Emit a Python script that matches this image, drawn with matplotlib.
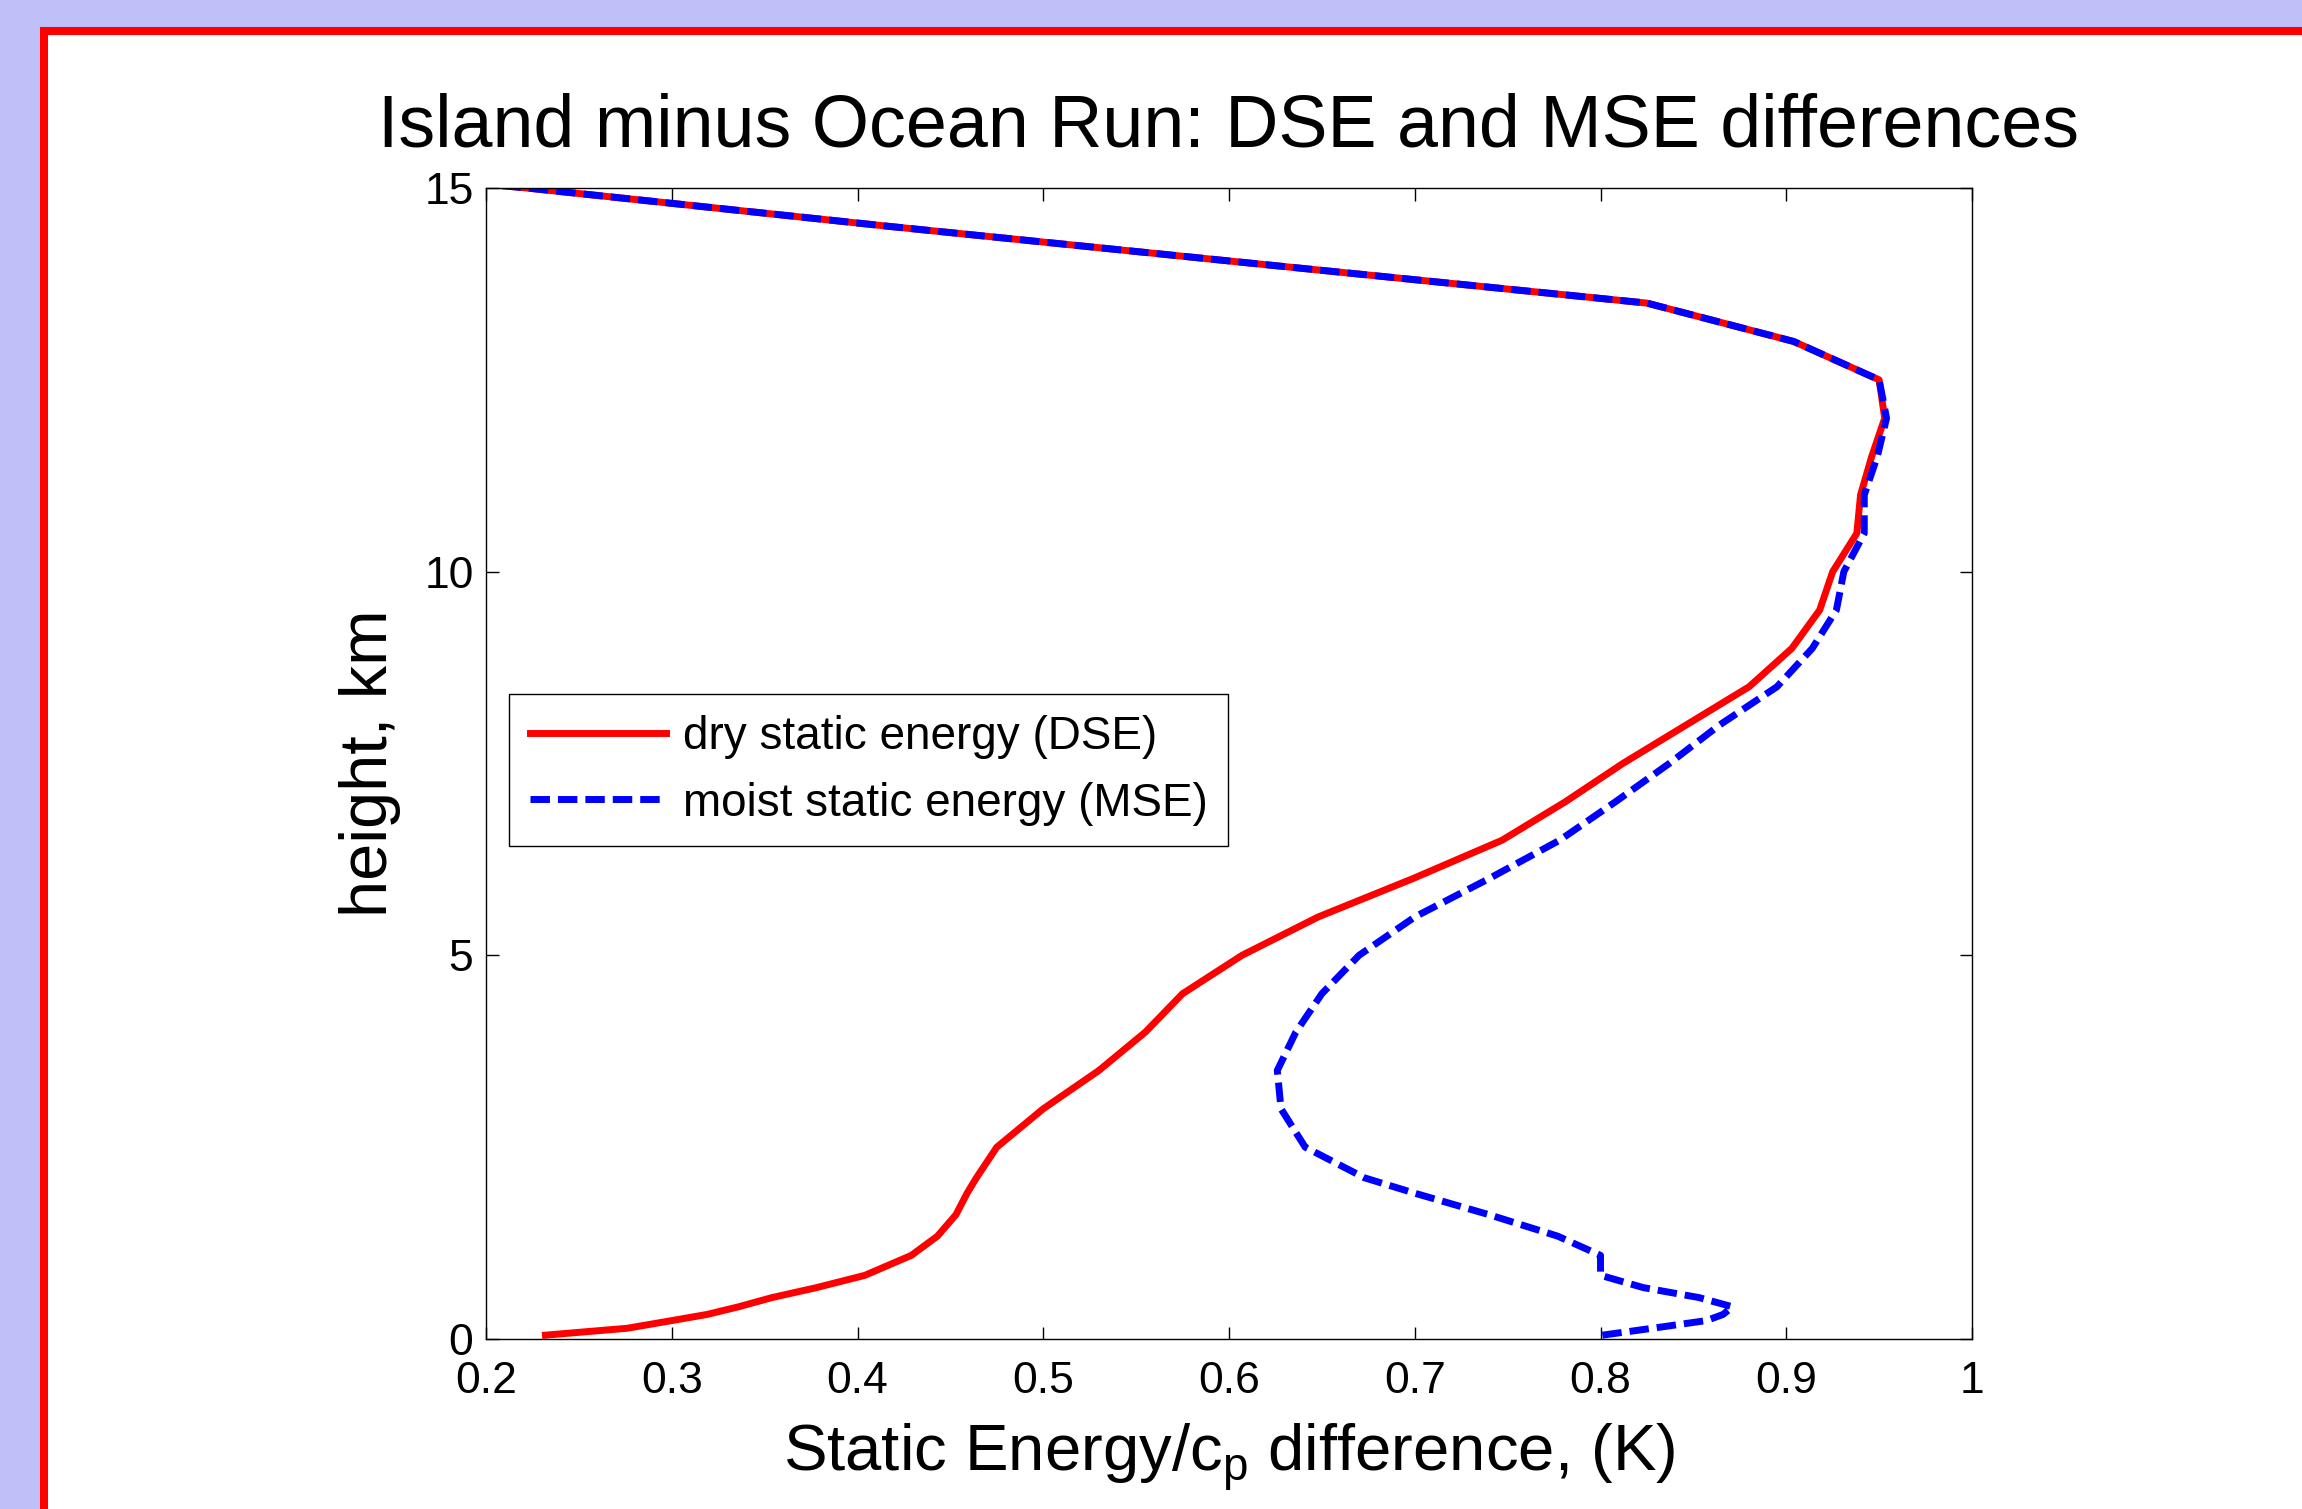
import matplotlib
matplotlib.use('Agg')
import matplotlib.pyplot as plt
from matplotlib.patches import Rectangle

# --- 1. Data ---
# height levels of the profile, km
heights_km = [0.05, 0.14, 0.24, 0.32, 0.42, 0.54, 0.67, 0.83, 1.09, 1.34,
              1.62, 1.9, 2.1, 2.5, 3.0,
              3.5, 4.0, 4.5, 5.0, 5.5, 6.0, 6.5, 7.0, 7.5, 8.0,
              8.5, 9.0, 9.5, 10.0, 10.5, 11.0, 11.5, 12.0, 12.5, 13.0,
              13.5, 14.0, 14.5, 15.0, 15.5]

# island minus ocean, dry static energy / cp (K)
dse_diff = [0.232, 0.276, 0.300, 0.319, 0.336, 0.354, 0.378, 0.404, 0.429, 0.443,
            0.453, 0.459, 0.464, 0.475, 0.500,
            0.530, 0.555, 0.575, 0.607, 0.648, 0.699, 0.747, 0.781, 0.812, 0.846,
            0.880, 0.903, 0.918, 0.925, 0.938, 0.940, 0.946, 0.953, 0.950, 0.904,
            0.825, 0.620, 0.417, 0.222, 0.0]

# island minus ocean, moist static energy / cp (K)
mse_diff = [0.801, 0.828, 0.857, 0.866, 0.871, 0.853, 0.823, 0.800, 0.800, 0.777,
            0.740, 0.700, 0.673, 0.641, 0.628,
            0.626, 0.636, 0.650, 0.670, 0.700, 0.740, 0.778, 0.808, 0.837, 0.864,
            0.895, 0.914, 0.927, 0.931, 0.942, 0.942, 0.949, 0.954, 0.950, 0.904,
            0.825, 0.620, 0.417, 0.222, 0.0]

xticks = [0.2, 0.3, 0.4, 0.5, 0.6, 0.7, 0.8, 0.9, 1.0]
xtick_labels = ['0.2', '0.3', '0.4', '0.5', '0.6', '0.7', '0.8', '0.9', '1']
yticks = [0, 5, 10, 15]

# --- 2. Fonts ---
plt.rcParams['font.family'] = ['Liberation Sans', 'DejaVu Sans']
plt.rcParams['mathtext.fontset'] = 'custom'
plt.rcParams['mathtext.rm'] = 'Liberation Sans'
plt.rcParams['mathtext.it'] = 'Liberation Sans:italic'

# --- 3. Figure: lavender slide with a red framed white panel ---
W, H = 2302, 1509
fig = plt.figure(figsize=(W / 100, H / 100), dpi=100)
fig.patch.set_facecolor('#C0C0F8')
panel = Rectangle((44 / W, -0.1), 1.2, 1.1 - 31 / H, transform=fig.transFigure,
                  facecolor='white', edgecolor='#FF0000', linewidth=5.8, zorder=0)
fig.add_artist(panel)

ax = fig.add_axes([486 / W, 170 / H, 1486 / W, 1151 / H])
ax.set_facecolor('white')

# --- 4. Plot ---
ax.plot(dse_diff, heights_km, color='#FF0000', linewidth=5.0,
        solid_joinstyle='round', label='dry static energy (DSE)')
ax.plot(mse_diff, heights_km, color='#0000FF', linewidth=5.0,
        linestyle=(0, (2.8, 1.15)), dash_capstyle='butt',
        label='moist static energy (MSE)')

# --- 5. Style (MATLAB look) ---
ax.set_xlim(0.2, 1.0)
ax.set_ylim(0, 15)
ax.set_xticks(xticks)
ax.set_xticklabels(xtick_labels)
ax.set_yticks(yticks)
ax.tick_params(direction='in', top=True, right=True, length=9, width=1,
               labelsize=32)
ax.tick_params(axis='x', pad=16)
ax.tick_params(axis='y', pad=9)
for sp in ax.spines.values():
    sp.set_linewidth(1.0)

ax.set_title('Island minus Ocean Run: DSE and MSE differences', fontsize=53, pad=30)
ax.set_xlabel(r'Static Energy/c$_{\mathrm{p}}$ difference, (K)', fontsize=47)
ax.set_ylabel('height, km', fontsize=48)
ax.xaxis.set_label_coords(0.5, -0.072)
ax.yaxis.set_label_coords(-0.057, 0.5)

leg = ax.legend(loc='upper left', bbox_to_anchor=(0.0155, 0.5604),
                fontsize=33, frameon=True, fancybox=False, framealpha=1,
                edgecolor='black', handlelength=2.97, handletextpad=0.37,
                labelspacing=0.5, borderpad=0.45, borderaxespad=0)
leg.get_frame().set_linewidth(1.0)

# --- 6. Save ---
fig.savefig('out.png', dpi=100, facecolor=fig.get_facecolor())
